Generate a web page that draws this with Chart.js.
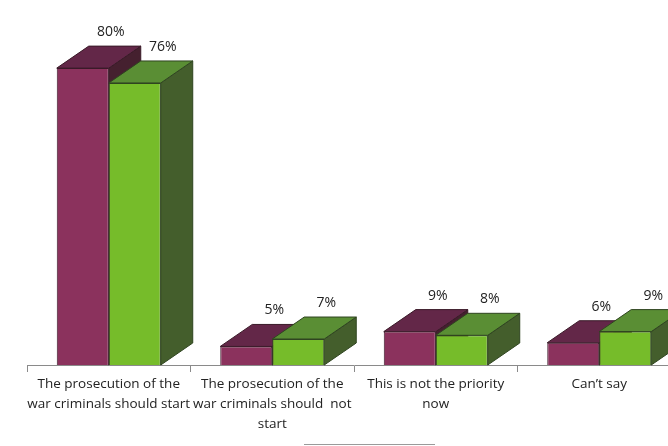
<!DOCTYPE html>
<html>
<head>
<meta charset="utf-8">
<script src="https://cdn.jsdelivr.net/npm/chart.js@4/dist/chart.umd.min.js"></script>
<style>
html,body{margin:0;padding:0;background:#fff;overflow:hidden;width:668px;height:446px;}
#c{position:absolute;left:0;top:0;}
</style>
</head>
<body>
<canvas id="c" width="681" height="446"></canvas>
<script>
const categories = [
  ["The prosecution of the", "war criminals should start"],
  ["The prosecution of the", "war criminals should  not", "start"],
  ["This is not the priority", "now"],
  ["Can\u2019t say"]
];
const seriesA = [80, 5, 9, 6];
const seriesB = [76, 7, 8, 9];

const FONT = "'Open Sans', sans-serif";
const DX = 32, DY = 22;
const faceColors = [
  {front:'#8B325D', top:'#632748', side:'#45202F', edge:'#3a1a28'},
  {front:'#76BC2A', top:'#5A8E34', side:'#445E2C', edge:'#2f4420'}
];

const threeD = {
  id: 'threeD',
  beforeDatasetsDraw(chart) {
    const ctx = chart.ctx;
    ctx.save();
    ctx.lineWidth = 1;
    const n = chart.data.labels.length;
    for (let i = 0; i < n; i++) {
      chart.data.datasets.forEach((ds, d) => {
        const el = chart.getDatasetMeta(d).data[i];
        const p = el.getProps(['x','y','base','width'], true);
        const l = p.x - p.width/2, r = p.x + p.width/2, t = p.y, b = p.base;
        const c = faceColors[d];
        ctx.strokeStyle = c.edge;
        ctx.beginPath();
        ctx.moveTo(r, t); ctx.lineTo(r+DX, t-DY); ctx.lineTo(r+DX, b-DY); ctx.lineTo(r, b); ctx.closePath();
        ctx.fillStyle = c.side; ctx.fill(); ctx.stroke();
        ctx.beginPath();
        ctx.moveTo(l, t); ctx.lineTo(r, t); ctx.lineTo(r+DX, t-DY); ctx.lineTo(l+DX, t-DY); ctx.closePath();
        ctx.fillStyle = c.top; ctx.fill(); ctx.stroke();
      });
    }
    ctx.restore();
  },
  afterDatasetsDraw(chart) {
    const ctx = chart.ctx;
    ctx.save();
    ctx.font = "14px " + FONT;
    ctx.fillStyle = '#222';
    ctx.textAlign = 'center';
    ctx.textBaseline = 'middle';
    chart.data.datasets.forEach((ds, d) => {
      chart.getDatasetMeta(d).data.forEach((el, i) => {
        const p = el.getProps(['x','y'], true);
        ctx.fillText(ds.data[i] + '%', p.x + 28, p.y - 36);
      });
    });
    ctx.restore();
  },
  afterDraw(chart) {
    const ctx = chart.ctx;
    ctx.save();
    ctx.strokeStyle = '#9a9a9a';
    ctx.lineWidth = 1;
    ctx.beginPath();
    ctx.moveTo(304, 444.5); ctx.lineTo(435, 444.5);
    ctx.stroke();
    ctx.restore();
  }
};

new Chart(document.getElementById('c'), {
  type: 'bar',
  data: {
    labels: categories,
    datasets: [
      {label: 'A', data: seriesA, backgroundColor: faceColors[0].front, borderColor: faceColors[0].edge, borderWidth: 1},
      {label: 'B', data: seriesB, backgroundColor: faceColors[1].front, borderColor: faceColors[1].edge, borderWidth: 1}
    ]
  },
  options: {
    responsive: false,
    animation: false,
    datasets: { bar: { categoryPercentage: 0.636, barPercentage: 1.0 } },
    layout: { padding: { top: 31, left: 27, right: 0, bottom: 0 } },
    plugins: { legend: { display: false }, tooltip: { enabled: false } },
    scales: {
      x: {
        offset: true,
        grid: { display: true, drawOnChartArea: false, drawTicks: true, tickLength: 7, color: '#8a8a8a', offset: true },
        border: { display: true, color: '#8a8a8a' },
        ticks: { color: '#222', font: { family: FONT, size: 13.5, lineHeight: 20/13.5 }, padding: 2, maxRotation: 0, autoSkip: false },
        afterFit(scale) { scale.height = 81; }
      },
      y: { display: false, min: 0, max: 90 }
    }
  },
  plugins: [threeD]
});
</script>
</body>
</html>
